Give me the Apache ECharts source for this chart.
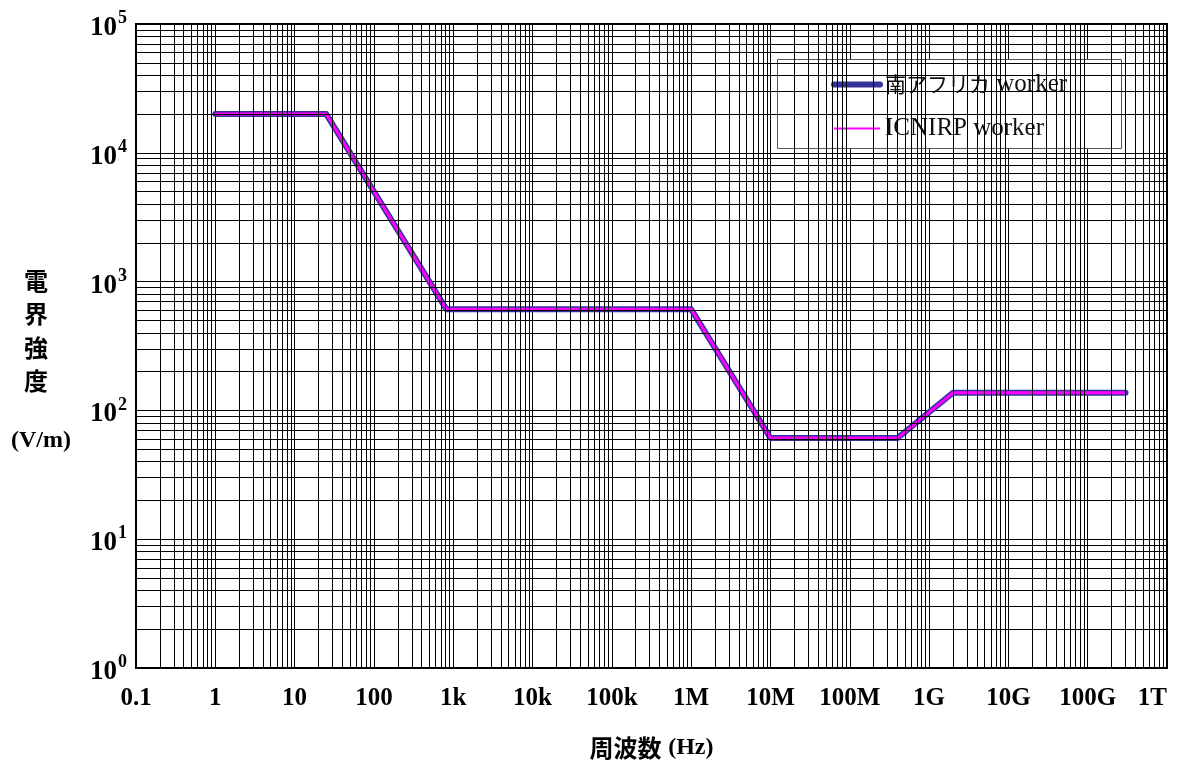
<!DOCTYPE html>
<html>
<head>
<meta charset="utf-8">
<script src="https://cdn.jsdelivr.net/npm/echarts@6/dist/echarts.min.js"></script>
<style>
  html, body { margin: 0; padding: 0; background: #fff; }
  #chart { width: 1192px; height: 769px; }
</style>
</head>
<body>
<div id="chart"></div>
<script>
// 周波数 (Hz)
const freq = [1, 25, 820, 1e6, 1e7, 4e8, 2e9, 3e11]
// 南アフリカ worker (V/m)
const saWorker = [20000, 20000, 610, 610, 61, 61, 137, 137]
// ICNIRP worker (V/m)
const icnirpWorker = [20000, 20000, 610, 610, 61, 61, 137, 137]
// 目盛りラベル
const xTickLabels = ['0.1', '1', '10', '100', '1k', '10k', '100k', '1M', '10M', '100M', '1G', '10G', '100G', '1T']
const yExponents = ['0', '1', '2', '3', '4', '5']
// 補助目盛り (各桁の2〜9)
const minorSteps = [2, 3, 4, 5, 6, 7, 8, 9]

const serif = '"Liberation Serif", "Times New Roman", serif'
const cjk = '"Noto Sans CJK JP", sans-serif'

const pairs = (xs, ys) => xs.map((x, i) => [x, ys[i]])

// 補助グリッド線
const gridLines = []
for (let e = -1; e < 12; e++) {
  minorSteps.forEach(m => gridLines.push({ xAxis: m * Math.pow(10, e) }))
}
for (let e = 0; e < 5; e++) {
  minorSteps.forEach(m => gridLines.push({ yAxis: m * Math.pow(10, e) }))
}

const chart = echarts.init(document.getElementById('chart'), null, { renderer: 'canvas' })

chart.setOption({
  animation: false,
  backgroundColor: '#ffffff',
  grid: {
    left: 136, right: 25, top: 24, bottom: 101,
    show: true, borderColor: '#000', borderWidth: 2, backgroundColor: '#fff'
  },
  xAxis: {
    type: 'log', logBase: 10, min: 0.1, max: 1e12, interval: 1,
    axisLine: { show: true, lineStyle: { color: '#000', width: 2 } },
    axisTick: { show: false },
    splitLine: { show: true, lineStyle: { color: '#000', width: 1 } },
    axisLabel: {
      margin: 18, color: '#000', fontFamily: serif, fontWeight: 'bold', fontSize: 25,
      alignMaxLabel: 'right',
      formatter: v => xTickLabels[Math.round(Math.log10(v)) + 1]
    },
    name: '{c|周波数}  {l|(Hz)}', nameLocation: 'middle', nameGap: 68,
    nameTextStyle: {
      fontSize: 12,
      rich: {
        c: { fontFamily: cjk, fontWeight: 'bold', fontSize: 24, color: '#000' },
        l: { fontFamily: serif, fontWeight: 'bold', fontSize: 24, color: '#000' }
      }
    }
  },
  yAxis: {
    type: 'log', logBase: 10, min: 1, max: 1e5, interval: 1,
    axisLine: { show: true, lineStyle: { color: '#000', width: 2 } },
    axisTick: { show: false },
    splitLine: { show: true, lineStyle: { color: '#000', width: 1 } },
    axisLabel: {
      margin: 9, color: '#000', padding: [9, 0, 0, 0],
      formatter: v => '{b|10}{s|' + yExponents[Math.round(Math.log10(v))] + '}',
      rich: {
        b: { fontFamily: serif, fontWeight: 'bold', fontSize: 27, lineHeight: 26, color: '#000', verticalAlign: 'bottom' },
        s: { fontFamily: serif, fontWeight: 'bold', fontSize: 18, lineHeight: 18, color: '#000', verticalAlign: 'bottom', padding: [0, 0, 14, 1] }
      }
    }
  },
  legend: {
    orient: 'vertical',
    left: 831, top: 72,
    padding: 0,
    itemWidth: 46, itemHeight: 14, itemGap: 19,
    data: [
      { name: '南アフリカ worker', itemStyle: { opacity: 0 }, lineStyle: { width: 6, cap: 'round', color: '#333399' } },
      { name: 'ICNIRP worker', itemStyle: { opacity: 0 }, lineStyle: { width: 2, color: '#ff00ff' } }
    ],
    formatter: name => name.replace('南アフリカ', '{c|南アフリカ}'),
    textStyle: {
      fontFamily: serif, fontSize: 25, color: '#111',
      rich: { c: { fontFamily: cjk, fontSize: 21, color: '#111' } }
    },
    selectedMode: false,
    z: 5
  },
  graphic: [
    {
      type: 'rect', z: 4, silent: true,
      shape: { x: 777.5, y: 59.5, width: 344, height: 89 },
      style: { fill: '#fff', stroke: '#555', lineWidth: 1 }
    },
    {
      type: 'text', left: 24, top: 264, silent: true,
      style: {
        text: '電\n界\n強\n度', font: 'bold 24px "Noto Sans CJK JP"',
        lineHeight: 33.5, fill: '#000'
      }
    },
    {
      type: 'text', left: 11, top: 429, silent: true,
      style: { text: '(V/m)', font: 'bold 24px "Liberation Serif"', fill: '#000' }
    }
  ],
  series: [
    {
      name: 'grid-minor',
      type: 'line',
      data: [],
      z: 1,
      silent: true,
      markLine: {
        silent: true, symbol: 'none', animation: false,
        label: { show: false },
        lineStyle: { color: '#000', width: 1, type: 'solid' },
        emphasis: { disabled: true },
        data: gridLines
      }
    },
    {
      name: '南アフリカ worker',
      type: 'line',
      data: pairs(freq, saWorker),
      symbol: 'none',
      z: 3,
      lineStyle: { color: '#333399', width: 6, cap: 'round', join: 'round' },
      itemStyle: { color: '#333399' }
    },
    {
      name: 'ICNIRP worker',
      type: 'line',
      data: pairs(freq, icnirpWorker),
      symbol: 'none',
      z: 3,
      lineStyle: { color: '#ff00ff', width: 3, join: 'round' },
      itemStyle: { color: '#ff00ff' }
    }
  ]
})
</script>
</body>
</html>
